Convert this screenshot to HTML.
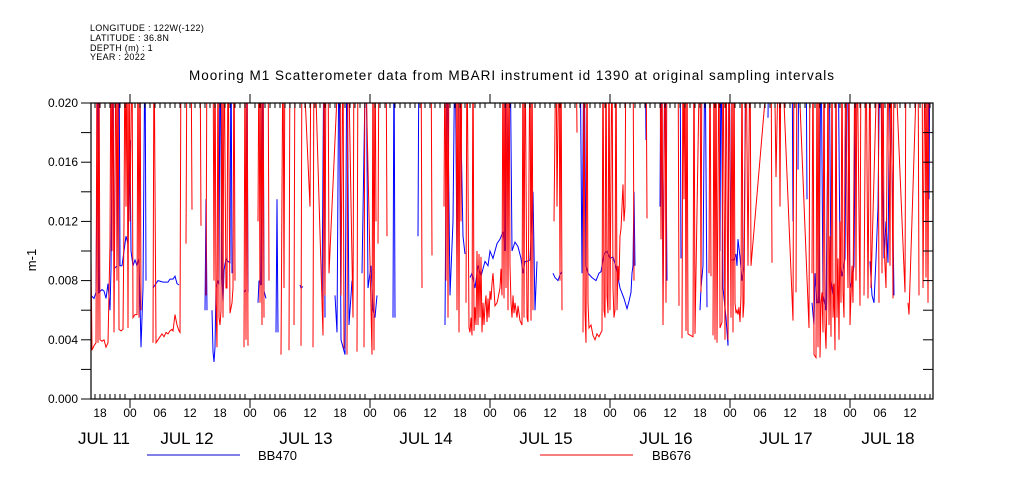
<!DOCTYPE html>
<html><head><meta charset="utf-8"><style>
body{margin:0;background:#fff;}
svg{display:block;font-family:"Liberation Sans",sans-serif;}
</style></head><body>
<svg id="chart" width="1009" height="504" viewBox="0 0 1009 504" xmlns="http://www.w3.org/2000/svg">
<defs><clipPath id="plotclip"><rect x="91" y="103" width="842" height="296"/></clipPath></defs>
<g font-size="9" fill="#000" letter-spacing="0.3">
<text x="90" y="31">LONGITUDE : 122W(-122)</text>
<text x="90" y="41">LATITUDE : 36.8N</text>
<text x="90" y="51">DEPTH (m) : 1</text>
<text x="90" y="60">YEAR : 2022</text>
</g>
<text x="512" y="80" font-size="13.5" letter-spacing="1" text-anchor="middle" fill="#000">Mooring M1 Scatterometer data from MBARI instrument id 1390 at original sampling intervals</text>
<text x="0" y="0" font-size="13" text-anchor="middle" transform="translate(36,260) rotate(-90)">m-1</text>
<g id="series" clip-path="url(#plotclip)"></g>
<g id="axes"></g>
<g>
<line x1="147" y1="455" x2="240" y2="455" stroke="#00c" stroke-width="1"/>
<text x="258" y="460" font-size="13">BB470</text>
<line x1="540" y1="455" x2="633" y2="455" stroke="#e00" stroke-width="1"/>
<text x="652" y="460" font-size="13">BB676</text>
</g>
</svg>
<script>
// time in 12-minute sample steps since 2022-07-11 00:00 ; values in units of 0.001 m-1 (null = gap)
const blueStep=[81,84,86,88,89,92,94,96,98,100,101,103,104,107,109,110,112,114,116,118,120,121,123,125,127,129,131,133,135,136,137,
143,148,153,158,160,163,165,167,169,170,
195,196,197,198,
202,203,204,205,206,208,209,210,212,213,214,216,218,220,221,222,223,
234,236,237,238,239,
248,249,251,253,254,256,257,
266,267,268,269,
290,291,293,294,
312,314,315,316,
325,327,329,331,335,337,339,342,343,
352,356,358,361,363,365,367,368,
383,384,385,386,
408,409,410,
435,437,440,443,445,447,449,453,455,456,
460,462,465,468,471,475,478,480,483,487,490,493,495,496,498,500,502,505,508,511,513,515,517,520,523,525,527,528,
543,545,548,550,552,553,
570,572,574,576,578,582,586,589,591,594,597,600,603,606,610,614,617,619,621,622,623,624,625,626,
635,636,637,
650,651,653,655,657,658,
670,671,672,
690,691,693,695,697,698,
710,711,713,716,718,719,721,724,726,727,728,730,732,734,736,737,
758,759,760,
782,783,784,
788,789,790,
796,797,798,
802,804,805,807,809,811,813,816,819,821,824,825,
828,830,832,835,837,840,842,844,846,847,
860,862,864,866,868,870,874,876,878,880,884,885,
918,919,920,921];
const blueVal=[7.0,6.8,7.2,25,7.2,7.4,7.3,6.8,7.8,6.0,8.8,25,8.8,9.0,25,9.0,9.0,10.0,11.0,10.5,17.5,10.0,9.0,9.4,9.0,9.5,3.5,7.5,25,8.0,null,
7.5,8.0,7.9,7.9,8.1,8.1,8.3,7.8,7.7,null,
6.0,13.5,6.0,null,
6.0,3.2,2.5,3.5,7.5,8.0,7.7,25,8.2,6.5,8.7,9.5,9.3,9.2,25,8.5,null,
7.2,7.4,25,7.2,null,
6.5,8.0,7.7,25,7.3,6.8,null,
4.5,13.5,4.5,null,
7.7,7.5,7.6,null,
6.5,25,5.5,null,
7.0,4.5,25,4.0,3.0,25,5.0,8.0,null,
8.5,25,7.5,9.0,6.0,5.5,7.0,null,
5.5,25,5.5,null,
11,25,null,
5.0,25,7.0,12,25,9.5,25,11,9.8,null,
8.2,8.5,7.5,9.0,8.3,9.3,9.0,10.0,9.5,10.5,10.8,11.3,10.0,25,14,25,10.0,10.6,10.3,9.5,8.5,9.3,9.3,9.4,14,6.0,9.3,null,
8.5,8.2,8.0,8.4,8.6,null,
25,8.5,25,9.0,8.5,8.2,8.0,8.5,8.6,9.8,10.0,9.5,9.6,8.9,7.5,6.8,6.1,6.6,7.2,8.5,9.0,14,9.0,null,
25,17.5,null,
13,25,7.5,25,8.0,null,
25,9.5,null,
6.0,7.5,9.0,25,6.2,null,
10,25,7.5,5.5,3.6,25,9.4,9.4,9.8,9.0,10.8,9.6,8.0,9.0,25,null,
19,25,null,
25,12,null,
15.5,25,null,
25,13.5,null,
6.5,5.0,8.5,6.5,6.5,25,7.0,6.0,25,8.0,6.5,null,
25,9.5,8.3,9.5,25,7.5,8.0,9.0,25,null,
9.3,7.0,6.5,9.5,13,25,9.5,12,9.2,25,7.0,null,
25,13.5,25,null];
const redStep=[81,82,84,86,87,88,89,90,92,94,96,98,100,101,102,103,104,106,107,108,109,111,113,114,115,116,117,118,119,120,122,123,125,127,128,129,130,131,
142,143,144,146,148,150,152,154,156,158,160,162,163,165,167,169,170,171,
175,176,177,
180,181,182,
189,190,191,
195,196,197,
202,203,204,205,206,207,208,209,210,211,212,213,214,216,217,218,220,222,223,224,225,
233,234,235,236,237,238,
247,248,249,250,251,252,253,254,
257,258,259,
270,271,273,274,275,
278,279,280,
283,284,285,
290,291,292,
300,301,302,303,304,
313,314,315,316,317,318,319,
330,331,333,334,336,337,338,
343,344,346,347,348,
353,354,355,
362,363,364,365,366,367,368,369,
375,376,377,
410,411,412,
420,421,422,
433,434,435,436,437,438,439,
445,446,447,448,449,450,451,452,
455,456,457,459,460,461,462,463,464,465,466,467,468,469,470,471,472,473,474,475,476,477,478,479,480,481,482,483,485,487,488,490,491,492,493,494,495,496,497,498,499,500,501,502,503,504,505,507,508,510,512,513,514,515,517,518,520,521,522,523,
543,544,546,547,549,550,551,552,
565,566,567,
572,573,574,575,576,577,578,579,581,583,585,587,589,591,592,593,594,595,596,597,598,599,600,602,603,604,605,606,607,608,609,610,611,612,613,614,615,616,
622,623,624,
635,636,637,
649,650,651,652,653,655,656,657,
667,668,669,670,672,673,674,675,676,677,678,683,684,685,
690,691,692,693,
699,700,701,702,703,704,705,706,707,709,710,712,713,715,716,718,719,721,722,723,724,725,726,727,728,729,730,731,732,733,734,736,738,740,741,
761,762,763,764,766,767,769,770,771,
783,784,785,786,787,
799,800,801,802,803,804,805,806,807,808,809,810,811,812,813,814,815,816,817,818,819,820,821,822,823,824,825,826,827,828,829,830,831,832,833,834,835,836,837,838,839,840,842,843,845,846,847,
850,851,853,854,856,858,860,861,
868,869,870,871,872,873,874,876,878,880,881,883,884,
895,896,897,898,899,
908,909,910,912,913,915,916,917,918,919];
const redVal=[9.5,3.3,3.6,3.8,25,3.8,25,4.0,3.9,4.0,3.5,3.8,10.5,25,10,25,4.5,25,8,25,4.7,4.6,4.7,12,25,13,25,4.8,25,12,25,5.5,5.7,5.7,25,5.5,25,6.0,null,
3.8,25,3.8,4.0,4.2,4.4,4.2,4.5,4.4,4.6,4.7,4.6,5.7,5.0,4.6,4.5,25,null,
10.5,25,null,
25,12.8,null,
25,11.7,null,
7.0,25,null,
25,8,25,6.5,3.5,25,5.5,5.0,6.0,25,5.5,25,7.5,7.5,25,5.8,6.5,7.5,25,8.0,null,
3.5,25,4.0,25,3.6,null,
12,25,6.5,25,5.0,25,5.5,null,
25,8.0,null,
3.0,25,7.5,25,null,
3.3,25,null,
5.0,25,null,
3.6,25,13,25,null,
3.5,25,4.3,25,7,25,null,
25,8.5,25,7.0,25,3.4,null,
3.0,25,5.5,25,null,
3.2,25,null,
3.5,25,3.0,25,3.3,25,12,null,
10.5,25,null,
25,11,null,
25,7.5,null,
25,9.7,null,
13,25,8.0,25,5.5,25,null,
25,6.0,25,4.5,25,12,25,null,
6.5,25,4.8,4.5,5.5,4.3,25,4.6,6.2,5.0,10,5.0,9.8,5.5,9.6,4.5,6.5,5.0,6.3,7.0,5.2,6.8,5.5,7.3,6.7,7.8,8.5,6.3,6.5,6.8,7.5,8.8,7.0,25,6.8,25,7.5,25,6.0,25,9.0,6.5,5.5,7.0,5.8,6.5,5.5,6.3,5.3,5.0,25,5.5,25,5.5,5.2,25,5.3,25,6.0,null,
12,25,13,25,8,25,6,null,
25,18,null,
4.5,25,6.0,3.8,25,6.5,4.8,5.0,4.3,4.0,4.4,4.2,4.5,4.6,25,6.0,5.5,25,7.0,5.8,25,6.0,25,7.5,5.5,6.0,25,6.0,9.0,8.0,11,11.5,13,14.5,12,13,25,null,
25,8,null,
25,12.2,null,
25,10.8,25,5.0,25,6.5,25,null,
25,6.3,null,4.1,25,13.5,25,4.6,25,4.4,4.2,25,4.4,25,7.2,25,null,
8.5,25,8.3,null,
4.3,25,4.0,25,3.8,25,4.8,5.2,25,4.0,25,4.0,25,5.5,25,4.5,25,6.5,5.8,6.0,5.7,6.2,5.2,7.0,25,5.5,6.5,25,9.0,25,9.0,25,9.2,null,
25,15,18.5,25,13,25,5.3,25,null,
7.2,25,4.8,25,null,
8.5,25,3.0,2.9,2.8,25,3.5,25,2.8,6.5,7.2,4.5,25,5.0,3.4,7.0,25,5.0,11,4.2,25,5.5,7.8,3.3,25,5.5,9.5,4.0,12,6.5,25,7.2,5.5,17,25,12,7.5,25,5.0,9.0,6.5,25,8.0,25,6.3,25,null,
7.0,25,6.8,25,7.5,25,6.5,null,
25,8.5,25,10.5,7.5,25,9.0,25,6.8,25,7.2,25,null,
6.5,5.7,25,7.0,null,
25,7.5,25,8.2,25,6.5,25,8.0,6.5,null];
const yTicks=[0.000,0.004,0.008,0.012,0.016,0.020];
const hourLabels=["18","00","06","12","18","00","06","12","18","00","06","12","18","00","06","12","18","00","06","12","18","00","06","12","18","00","06","12"];
const dayLabels=["JUL 11","JUL 12","JUL 13","JUL 14","JUL 15","JUL 16","JUL 17","JUL 18"];
const dayLabelStep=[94,177,296,416,536,656,776,878];

const X0=91,X1=933,Y0=399,Y1=103,S0=81,S1=923;
const xs=s=>X0+(s-S0)*(X1-X0)/(S1-S0);
const ys=v=>Y0-(v/1000)*(Y0-Y1)/0.020;
const NS="http://www.w3.org/2000/svg";
function mk(tag,attrs,parent){const e=document.createElementNS(NS,tag);for(const k in attrs)e.setAttribute(k,attrs[k]);parent.appendChild(e);return e;}
const series=document.getElementById('series'),axes=document.getElementById('axes');
function drawSeries(steps,vals,color,name){
  let d="",pen=false;
  for(let i=0;i<steps.length;i++){
    const v=vals[i];
    if(v===null||v===undefined){pen=false;continue;}
    d+=(pen?"L":"M")+xs(steps[i]).toFixed(1)+" "+ys(v).toFixed(1);pen=true;
  }
  const p=mk('path',{d:d,fill:'none',stroke:color,'stroke-width':1},series);
  
  
}
drawSeries(blueStep,blueVal,'#0000ff','series-bb470');
drawSeries(redStep,redVal,'#ff0000','series-bb676');
const fr=mk('rect',{x:X0,y:Y1,width:X1-X0,height:Y0-Y1,fill:'none',stroke:'#000','stroke-width':1.2},axes);


yTicks.forEach((t,i)=>{
  const y=ys(t*1000);
  mk('line',{x1:X0-10,y1:y,x2:X0,y2:y,stroke:'#000'},axes);
  mk('line',{x1:X1-10,y1:y,x2:X1,y2:y,stroke:'#000'},axes);
  const lb=mk('text',{x:X0-13,y:y+4,'font-size':12,'text-anchor':'end'},axes);
  lb.textContent=t.toFixed(3);
  
  
  if(i<yTicks.length-1){const ym=ys(t*1000+2);
    mk('line',{x1:X0-10,y1:ym,x2:X0,y2:ym,stroke:'#000'},axes);
    mk('line',{x1:X1-10,y1:ym,x2:X1,y2:ym,stroke:'#000'},axes);}
});
for(let s=85;s<=S1;s+=5){
  const x=xs(s);const major=(s%120===0);
  mk('line',{x1:x,y1:Y1,x2:x,y2:major?Y1-9:Y1+5,stroke:'#000'},axes);
  mk('line',{x1:x,y1:Y0,x2:x,y2:major?Y0+9:Y0-5,stroke:'#000'},axes);
}
hourLabels.forEach((h,i)=>{
  const s=90+30*i;const t=mk('text',{x:xs(s),y:417,'font-size':12,'text-anchor':'middle'},axes);
  t.textContent=h;
  
  
});
dayLabels.forEach((d,i)=>{
  const t=mk('text',{x:xs(dayLabelStep[i]),y:444,'font-size':17,'text-anchor':'middle'},axes);
  t.textContent=d;
  
  
});
</script>
</body></html>
